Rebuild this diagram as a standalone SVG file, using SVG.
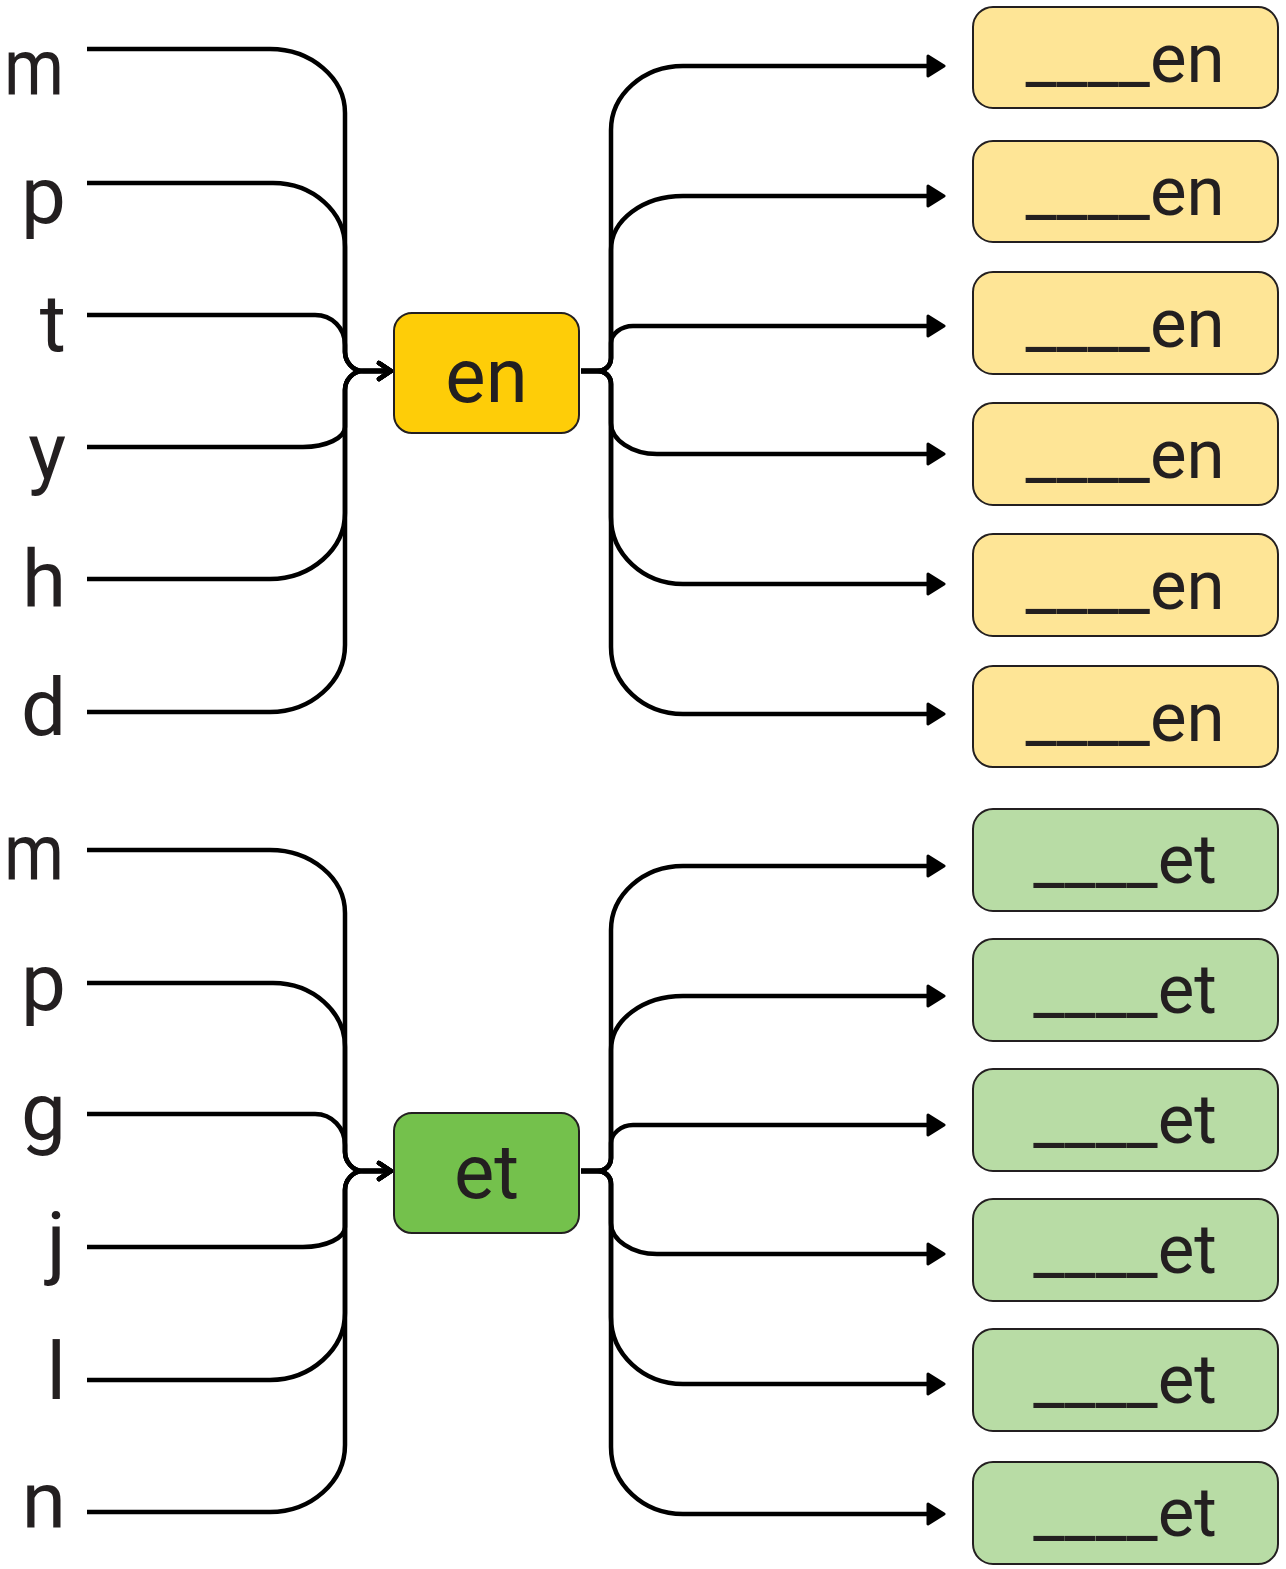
<svg xmlns="http://www.w3.org/2000/svg" width="1286" height="1569" viewBox="0 0 1286 1569">
<style>
.lt{font-family:Roboto,"Liberation Sans",sans-serif;font-size:80px;fill:#231f20;text-anchor:end}
.lm{font-family:Roboto,"Liberation Sans",sans-serif;font-size:80px;fill:#231f20;text-anchor:start}
.ct{font-family:Roboto,"Liberation Sans",sans-serif;font-size:76px;fill:#231f20;text-anchor:middle}
.bt{font-family:Roboto,"Liberation Sans",sans-serif;font-size:69px;fill:#231f20;text-anchor:middle}
.box{stroke:#231f20;stroke-width:2}
.ye{fill:#fecd08}.yl{fill:#fee596}.gr{fill:#74c14c}.gl{fill:#b8dca5}
.cn{fill:none;stroke:#000;stroke-width:4.5}
.in{marker-end:url(#chev)}
.out{marker-end:url(#tri)}
</style>
<defs>
<marker id="tri" markerUnits="userSpaceOnUse" viewBox="-2 -2 20 24" markerWidth="20" markerHeight="24" refX="4" refY="10" orient="auto">
<path d="M0,0 L16,10 L0,20 Z" fill="#000" stroke="#000" stroke-width="3" stroke-linejoin="round"/>
</marker>
<marker id="chev" markerUnits="userSpaceOnUse" viewBox="-4 -4 22 24" markerWidth="22" markerHeight="24" refX="10" refY="8" orient="auto">
<path d="M0,0 L12,8 L0,16" fill="none" stroke="#000" stroke-width="4.5" stroke-linejoin="round" stroke-linecap="round"/>
</marker>
</defs>
<rect width="1286" height="1569" fill="#fff"/>

<g id="connectors">
<g id="en-connectors">
<path class="cn in" d="M87,49 H270 C311,49 345,78 345,113 V352 C345,362 353,371 363,371 H389"/>
<path class="cn in" d="M87,183 H273 C313,183 345,212 345,247 V352 C345,362 353,371 363,371 H389"/>
<path class="cn in" d="M87,315 H315 C332,315 345,328 345,345 V352 C345,362 353,371 363,371 H389"/>
<path class="cn in" d="M87,447 H303 C326,447 345,438 345,427 V390 C345,380 353,371 363,371 H389"/>
<path class="cn in" d="M87,579 H270 C311,579 345,549 345,513 V390 C345,380 353,371 363,371 H389"/>
<path class="cn in" d="M87,712 H270 C311,712 345,682 345,645 V390 C345,380 353,371 363,371 H389"/>
<path class="cn out" d="M581,371 H597 C605,371 611,366 611,358 V130 C611,95 643,66 683,66 H932"/>
<path class="cn out" d="M581,371 H597 C605,371 611,366 611,358 V250 C611,220 643,196 683,196 H932"/>
<path class="cn out" d="M581,371 H597 C605,371 611,366 611,358 V343 C611,334 621,326 633,326 H932"/>
<path class="cn out" d="M581,371 H597 C605,371 611,376 611,384 V423 C611,440 632,454 657,454 H932"/>
<path class="cn out" d="M581,371 H597 C605,371 611,376 611,384 V517 C611,554 643,584 683,584 H932"/>
<path class="cn out" d="M581,371 H597 C605,371 611,376 611,384 V647 C611,684 643,714 683,714 H932"/>
</g>
<g id="et-connectors" transform="translate(0,800)">
<path class="cn in" d="M87,50 H270 C311,50 345,78 345,113 V352 C345,362 353,371 363,371 H389"/>
<path class="cn in" d="M87,183 H273 C313,183 345,212 345,247 V352 C345,362 353,371 363,371 H389"/>
<path class="cn in" d="M87,314 H315 C332,314 345,328 345,345 V352 C345,362 353,371 363,371 H389"/>
<path class="cn in" d="M87,447 H303 C326,447 345,438 345,427 V390 C345,380 353,371 363,371 H389"/>
<path class="cn in" d="M87,580 H270 C311,580 345,549 345,513 V390 C345,380 353,371 363,371 H389"/>
<path class="cn in" d="M87,712 H270 C311,712 345,682 345,645 V390 C345,380 353,371 363,371 H389"/>
<path class="cn out" d="M581,371 H597 C605,371 611,366 611,358 V130 C611,95 643,66 683,66 H932"/>
<path class="cn out" d="M581,371 H597 C605,371 611,366 611,358 V250 C611,220 643,196 683,196 H932"/>
<path class="cn out" d="M581,371 H597 C605,371 611,366 611,358 V343 C611,334 621,325 633,325 H932"/>
<path class="cn out" d="M581,371 H597 C605,371 611,376 611,384 V423 C611,440 632,454 657,454 H932"/>
<path class="cn out" d="M581,371 H597 C605,371 611,376 611,384 V517 C611,554 643,584 683,584 H932"/>
<path class="cn out" d="M581,371 H597 C605,371 611,376 611,384 V647 C611,684 643,714 683,714 H932"/>
</g>
</g>

<g id="src-m1"><text class="lm" x="4" y="95" textLength="60" lengthAdjust="spacingAndGlyphs">m</text></g>
<g id="src-p1"><text class="lt" x="66" y="223">p</text></g>
<g id="src-t"><text class="lt" x="66" y="351">t</text></g>
<g id="src-y"><text class="lt" x="66" y="479">y</text></g>
<g id="src-h"><text class="lt" x="66" y="607">h</text></g>
<g id="src-d"><text class="lt" x="66" y="735">d</text></g>

<g id="src-m2"><text class="lm" x="4" y="880" textLength="60" lengthAdjust="spacingAndGlyphs">m</text></g>
<g id="src-p2"><text class="lt" x="66" y="1010">p</text></g>
<g id="src-g"><text class="lt" x="66" y="1139">g</text></g>
<g id="src-j"><text class="lt" x="66" y="1269">j</text></g>
<g id="src-l"><text class="lt" x="66" y="1399">l</text></g>
<g id="src-n"><text class="lt" x="66" y="1528">n</text></g>

<g id="hub-en"><rect class="box ye" x="394" y="313" width="185" height="120" rx="18"/><text class="ct" x="486.5" y="402">en</text></g>
<g id="hub-et"><rect class="box gr" x="394" y="1113" width="185" height="120" rx="18"/><text class="ct" x="486.5" y="1198">et</text></g>

<g id="en-1"><rect class="box yl" x="973" y="7" width="305" height="101" rx="20"/><text class="bt" x="1125" y="82">____en</text></g>
<g id="en-2"><rect class="box yl" x="973" y="141" width="305" height="101" rx="20"/><text class="bt" x="1125" y="215">____en</text></g>
<g id="en-3"><rect class="box yl" x="973" y="272" width="305" height="102" rx="20"/><text class="bt" x="1125" y="347">____en</text></g>
<g id="en-4"><rect class="box yl" x="973" y="403" width="305" height="102" rx="20"/><text class="bt" x="1125" y="478">____en</text></g>
<g id="en-5"><rect class="box yl" x="973" y="534" width="305" height="102" rx="20"/><text class="bt" x="1125" y="609">____en</text></g>
<g id="en-6"><rect class="box yl" x="973" y="666" width="305" height="101" rx="20"/><text class="bt" x="1125" y="741">____en</text></g>

<g id="et-1"><rect class="box gl" x="973" y="809" width="305" height="102" rx="20"/><text class="bt" x="1125" y="883">____et</text></g>
<g id="et-2"><rect class="box gl" x="973" y="939" width="305" height="102" rx="20"/><text class="bt" x="1125" y="1013">____et</text></g>
<g id="et-3"><rect class="box gl" x="973" y="1069" width="305" height="102" rx="20"/><text class="bt" x="1125" y="1143">____et</text></g>
<g id="et-4"><rect class="box gl" x="973" y="1199" width="305" height="102" rx="20"/><text class="bt" x="1125" y="1273">____et</text></g>
<g id="et-5"><rect class="box gl" x="973" y="1329" width="305" height="102" rx="20"/><text class="bt" x="1125" y="1403">____et</text></g>
<g id="et-6"><rect class="box gl" x="973" y="1462" width="305" height="102" rx="20"/><text class="bt" x="1125" y="1536">____et</text></g>
</svg>
